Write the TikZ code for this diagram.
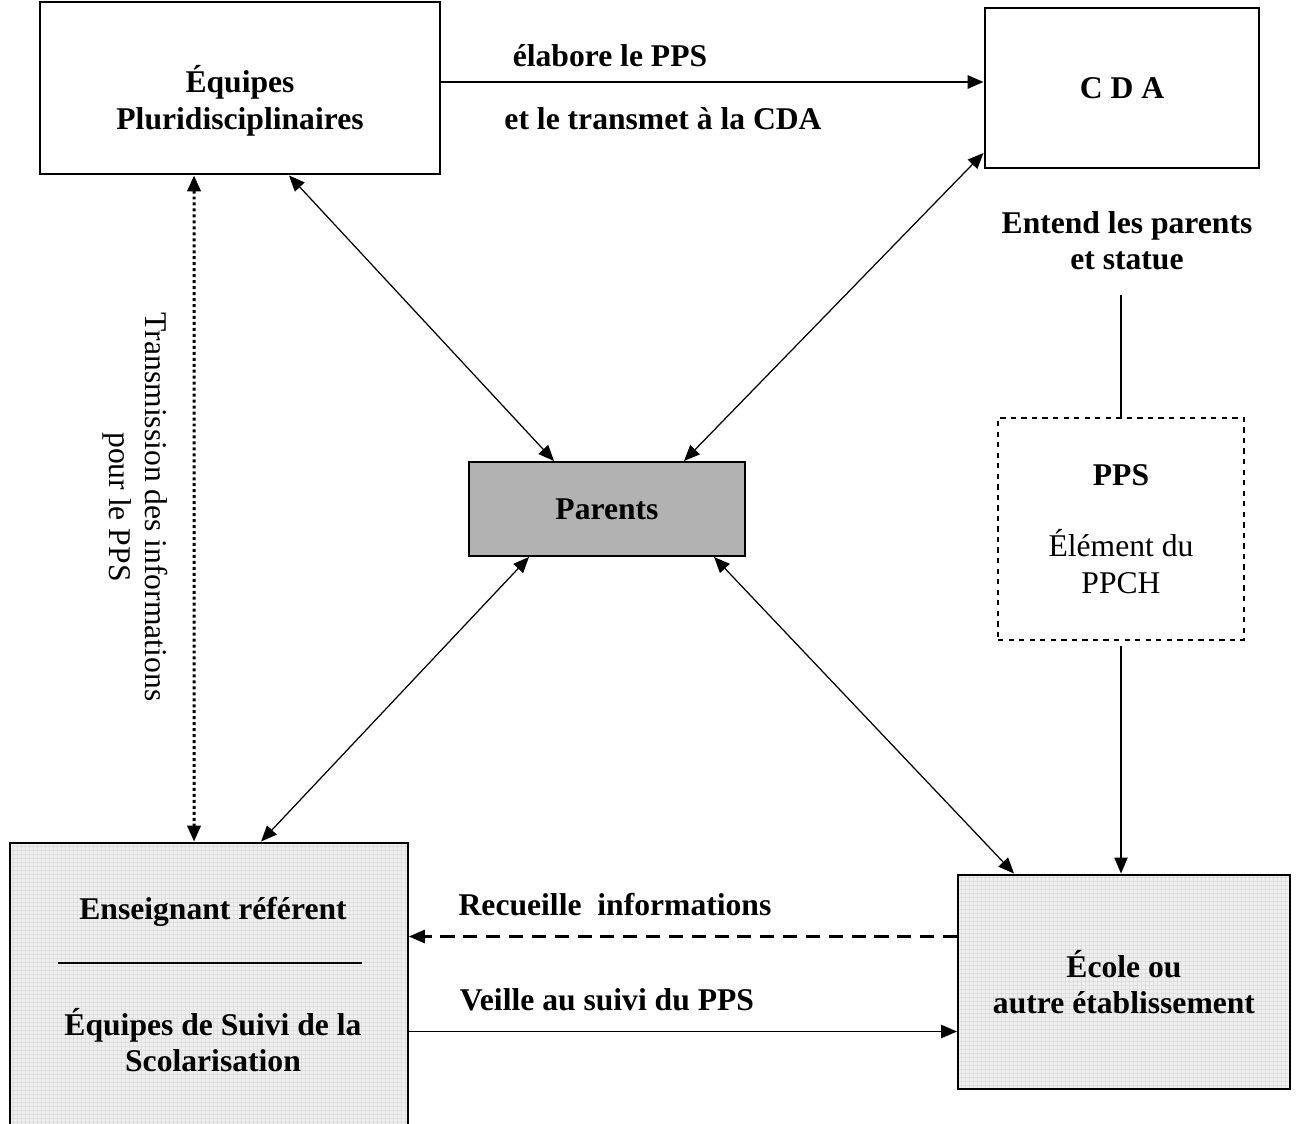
\documentclass[tikz,border=0pt]{standalone}
\usepackage{fontspec}
\setmainfont{Liberation Serif}
\usetikzlibrary{calc}
\usetikzlibrary{arrows.meta}

\begin{document}
\begin{tikzpicture}[x=0.02cm,y=-0.02cm,font=\fontsize{18}{20.7}\selectfont,
  >={Triangle[length=9pt,width=7.5pt]}]
\tikzstyle{box}=[rectangle,align=center,draw,line width=0.4mm,fill=white,inner sep=0pt,font=\fontsize{18}{20.7}\selectfont\bfseries]
\tikzstyle{greybox}=[box,fill=black!6,path picture={\draw[black!13,line width=0.1pt,step=0.08cm] (path picture bounding box.south west) grid (path picture bounding box.north east);}]
\tikzstyle{txt}=[align=center,font=\fontsize{18}{20.7}\selectfont\bfseries]
\tikzstyle{link}=[<->,line width=0.25mm]
\useasboundingbox (0,0) rectangle (1299,1124);

% boxes
\node[box,minimum width=8cm,minimum height=3.46cm] at (240,88) (equipes) {\rule{0pt}{30pt}Équipes\\Pluridisciplinaires};
\node[box,minimum width=5.5cm,minimum height=3.2cm] at (1122,88) (cda) {C D A};
\node[box,fill=black!30,minimum width=5.52cm,minimum height=1.88cm] at (607,509) (parents) {Parents};
\node[box,dashed,line width=0.3mm,minimum width=4.92cm,minimum height=4.44cm] at (1121,529) (pps) {PPS\\[20pt]\mdseries Élément du\\\mdseries PPCH};
\node[greybox,minimum width=6.64cm,minimum height=4.3cm] at (1124,982) (ecole) {École ou\\autre établissement};
\node[greybox,minimum width=7.96cm,minimum height=5.9cm] at (209,990) (ensbox) {};
\node[txt] at (213,912) (ensref) {Enseignant référent};
\node[txt] at (213,1040) (essco) {Équipes de Suivi de la\\Scolarisation};
\draw[line width=0.3mm] (58,963) -- (362,963);

% labels
\node[txt] at (610,56) (elabore) {élabore le PPS};
\node[txt] at (663,119) (transmet) {et le transmet à la CDA};
\node[txt] at (1127,241) (entend) {Entend les parents\\et statue};
\node[txt] at (615,905) (recueille) {Recueille\ \ informations};
\node[txt] at (607,1000) (veille) {Veille au suivi du PPS};
\node[align=center,rotate=-90] at (135,507) (transm) {Transmission des informations\\pour le PPS};

% connectors
\draw[->,line width=0.45mm] ($(equipes.east)+(0,-6)$) -- ($(cda.west)+(0,-6)$);
\draw[link] ($(equipes.south west)+(250,0)$) -- ($(parents.north west)+(86,0)$);
\draw[link] ($(cda.south west)+(0,-16)$) -- ($(parents.north west)+(216,0)$);
\draw[link] ($(parents.south west)+(61,0)$) -- ($(ensbox.north west)+(252,0)$);
\draw[link] ($(parents.south west)+(246,0)$) -- ($(ecole.north west)+(57,0)$);
\draw[<->,line width=0.6mm,dash pattern=on 1.7pt off 1.7pt] ($(equipes.south west)+(155,0)$) -- ($(ensbox.north west)+(185,0)$);
\draw[line width=0.25mm] ($(entend.south -| pps.north)+(0,18)$) -- (pps.north);
\draw[->,line width=0.25mm] ($(pps.south)+(0,5)$) -- (pps.south |- ecole.north);
\coordinate (rec) at ($(ecole.north west)+(0,63)$);
\coordinate (vei) at ($(ecole.north west)+(0,158)$);
\draw[->,line width=0.45mm,dash pattern=on 8pt off 5pt] (rec) -- (rec -| ensbox.east);
\draw[->,line width=0.3mm] (vei -| ensbox.east) -- (vei);
\end{tikzpicture}
\end{document}
